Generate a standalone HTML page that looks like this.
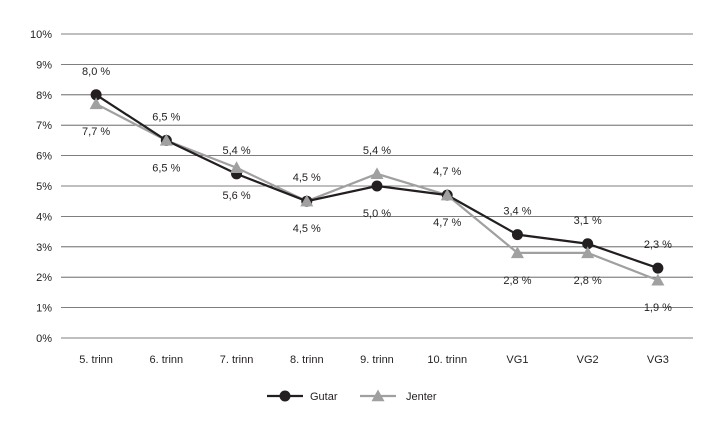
<!DOCTYPE html>
<html><head><meta charset="utf-8"><style>
body{margin:0;background:#fff;}
svg{font-family:"Liberation Sans",sans-serif;font-size:11px;fill:#231f20;}
</style></head><body>
<svg id="chart" width="719" height="425"></svg>
<script>
const categories=["5. trinn","6. trinn","7. trinn","8. trinn","9. trinn","10. trinn","VG1","VG2","VG3"];
const gutar=[8.0,6.5,5.4,4.5,5.0,4.7,3.4,3.1,2.3];
const jenter=[7.7,6.5,5.6,4.5,5.4,4.7,2.8,2.8,1.9];
const gutarLabelAbove=[true,true,true,true,false,true,true,true,true];
const yTicks=[0,1,2,3,4,5,6,7,8,9,10];
const NS="http://www.w3.org/2000/svg";
const svg=document.getElementById("chart");
const x0=61,x1=693,yTop=34,yBot=338;
const step=(x1-x0)/categories.length;
const xs=i=>x0+step*(i+0.5);
const ys=v=>yBot-(v/10)*(yBot-yTop);
function el(t,a,p){const e=document.createElementNS(NS,t);for(const k in a)e.setAttribute(k,a[k]);(p||svg).appendChild(e);return e;}
const fmt=v=>v.toFixed(1).replace(".",",")+" %";
yTicks.forEach(t=>{
  const g=el("line",{x1:x0,x2:x1,y1:ys(t),y2:ys(t),stroke:"#555","stroke-width":0.8});
  
  
  const l=el("text",{x:52,y:ys(t)+4,"text-anchor":"end"});l.textContent=t+"%";
  
  
});
categories.forEach((c,i)=>{
  const l=el("text",{x:xs(i),y:363,"text-anchor":"middle"});l.textContent=c;
  
  
});
function series(vals,color,name){
  const p=el("polyline",{points:vals.map((v,i)=>xs(i)+","+ys(v)).join(" "),fill:"none",stroke:color,"stroke-width":2.2});
  
  
}
series(jenter,"#a0a0a0","jenter");
series(gutar,"#231f20","gutar");
function tri(cx,cy,s){return `${cx},${cy-s} ${cx-s},${cy+s*0.8} ${cx+s},${cy+s*0.8}`;}
gutar.forEach((v,i)=>{
  const c=el("circle",{cx:xs(i),cy:ys(v),r:5.5,fill:"#231f20"});
  
  
});
jenter.forEach((v,i)=>{
  const t=el("polygon",{points:tri(xs(i),ys(v),6.5),fill:"#a0a0a0"});
  
  
});
categories.forEach((c,i)=>{
  const ga=gutarLabelAbove[i];
  const gy=ga?ys(gutar[i])-20:ys(gutar[i])+31;
  const jy=ga?ys(jenter[i])+31:ys(jenter[i])-20;
  const a=el("text",{x:xs(i),y:gy,"text-anchor":"middle"});a.textContent=fmt(gutar[i]);
  
  
  const b=el("text",{x:xs(i),y:jy,"text-anchor":"middle"});b.textContent=fmt(jenter[i]);
  
  
});
const lg=el("g",{});


el("line",{x1:267,x2:303,y1:396,y2:396,stroke:"#231f20","stroke-width":2.2},lg);
el("circle",{cx:285,cy:396,r:5.5,fill:"#231f20"},lg);
const t1=el("text",{x:310,y:400},lg);t1.textContent="Gutar";


el("line",{x1:360,x2:396,y1:396,y2:396,stroke:"#a0a0a0","stroke-width":2.2},lg);
el("polygon",{points:tri(378,396,6.5),fill:"#a0a0a0"},lg);
const t2=el("text",{x:406,y:400},lg);t2.textContent="Jenter";


</script>
</body></html>
